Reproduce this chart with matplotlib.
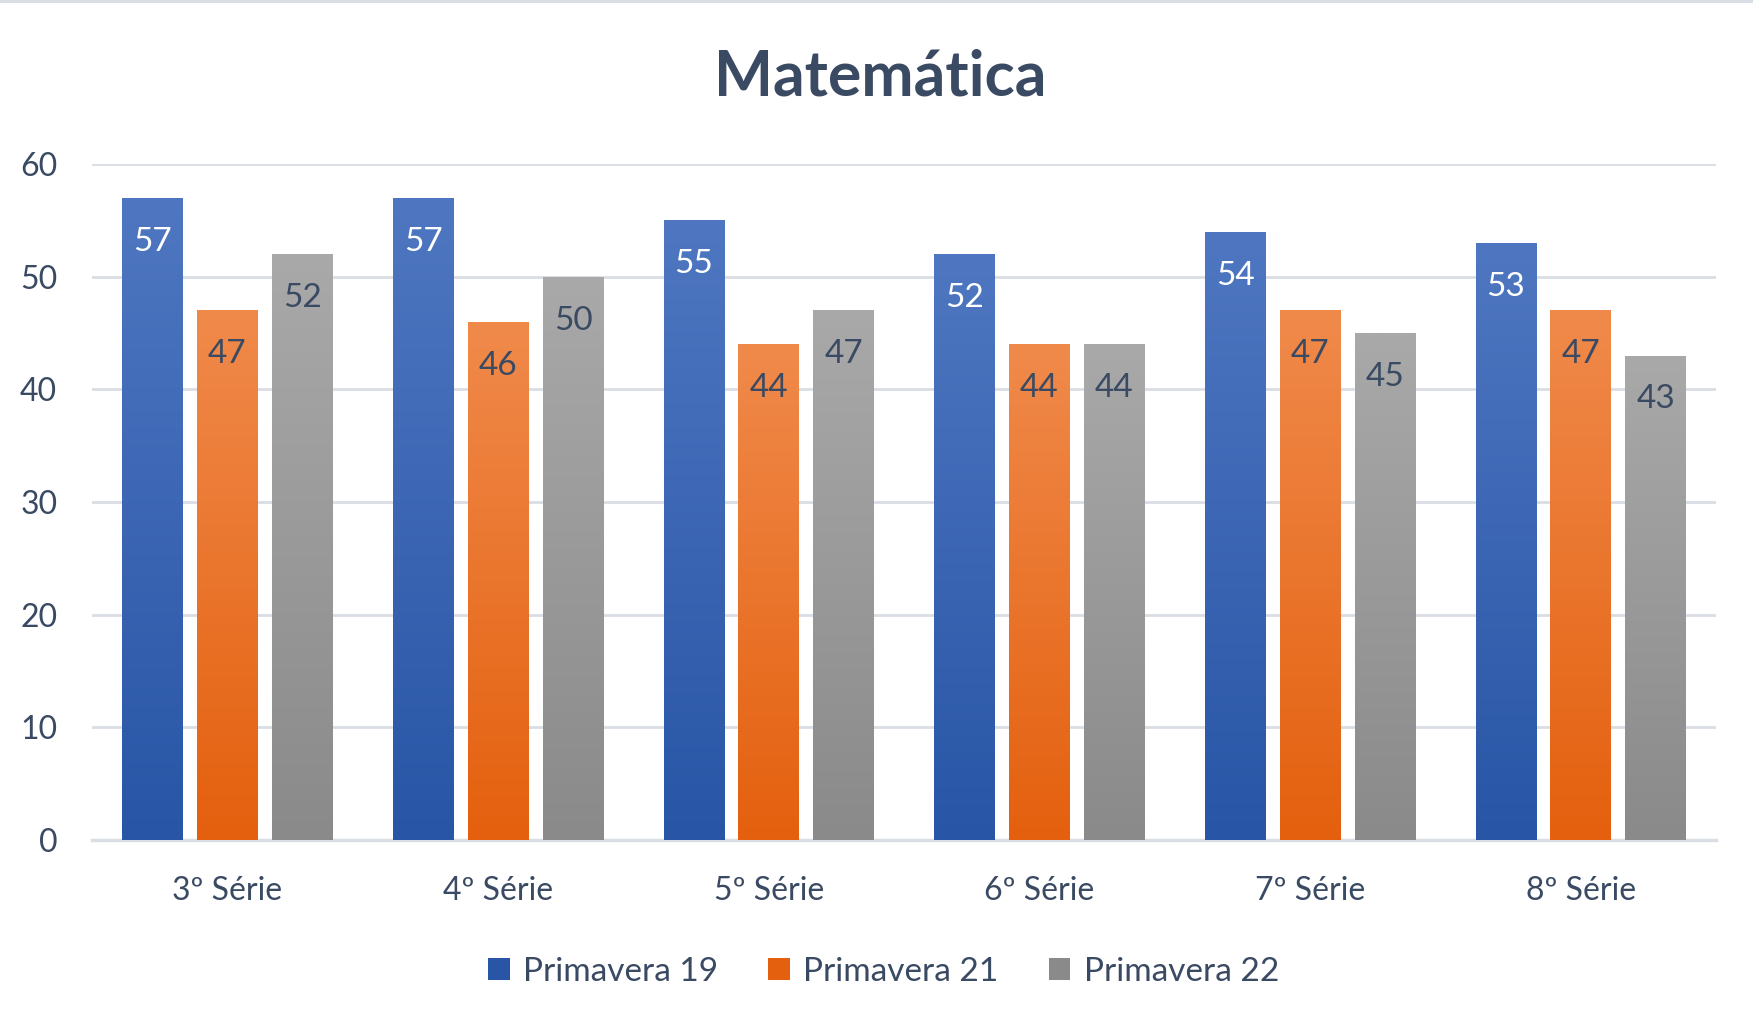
import numpy as np
import matplotlib
matplotlib.use("Agg")
import matplotlib.pyplot as plt
from matplotlib.colors import LinearSegmentedColormap
from matplotlib.patches import Patch
from matplotlib.lines import Line2D

# donnees
series = ["3º Série", "4º Série", "5º Série", "6º Série", "7º Série", "8º Série"]
noms = ["Primavera 19", "Primavera 21", "Primavera 22"]
prim19 = [57, 57, 55, 52, 54, 53]
prim21 = [47, 46, 44, 44, 47, 47]
prim22 = [52, 50, 47, 44, 45, 43]
valeurs = [prim19, prim21, prim22]

# couleurs haut / bas du degrade
degrades = [("#4f77c1", "#2855a6"), ("#f08a4b", "#e4600e"), ("#a9a9a9", "#8a8a8a")]
couleurs_txt = ["white", "#3a4a63", "#3a4a63"]
txt = "#3a4a63"

plt.rcParams['font.family'] = ['Lato', 'DejaVu Sans']

fig = plt.figure(figsize=(17.53, 10.29), dpi=100)
ax = fig.add_axes([92 / 1753, 1 - 840 / 1029, (1716 - 92) / 1753, (840 - 164) / 1029])

x = np.arange(len(series))
largeur = 0.223
pas = 0.277

grad = np.linspace(1, 0, 256).reshape(-1, 1)
for i, vals in enumerate(valeurs):
    cmap = LinearSegmentedColormap.from_list("g%d" % i, [degrades[i][1], degrades[i][0]])
    pos = x + (i - 1) * pas
    barres = ax.bar(pos, vals, width=largeur, color=degrades[i][0], zorder=2,
                    edgecolor="none")
    for b, v in zip(barres, vals):
        x0 = b.get_x()
        im = ax.imshow(grad, cmap=cmap, aspect="auto", zorder=3,
                       extent=[x0, x0 + b.get_width(), 0, v])
        im.set_clip_path(b)
        ax.text(b.get_x() + b.get_width() / 2, v - 3.9, str(v), ha="center", va="center",
                color=couleurs_txt[i], fontsize=24, zorder=4)
ax.set_xlim(-0.5, len(series) - 0.5)
ax.set_ylim(0, 60)

ax.set_yticks(range(0, 61, 10))
ax.yaxis.grid(True, color="#d9dde4", linewidth=2)
ax.set_axisbelow(True)
for s in ["top", "right", "left"]:
    ax.spines[s].set_visible(False)
ax.spines["bottom"].set_color("#d9dde4")
ax.spines["bottom"].set_linewidth(2.5)
ax.set_xticks(x)
ax.set_xticklabels(series)
ax.tick_params(axis="both", length=0, labelsize=23, labelcolor=txt)
ax.tick_params(axis="x", pad=26)
ax.tick_params(axis="y", pad=25)

fig.text(0.502, 1 - 77 / 1029, "Matemática", ha="center", va="center",
         fontsize=45, fontweight="bold", color=txt)

poignees = [Patch(facecolor=d[1], edgecolor="none") for d in degrades]
fig.legend(poignees, noms, loc="center", bbox_to_anchor=(0.504, 1 - 972 / 1029),
           ncol=3, frameon=False, fontsize=24, labelcolor=txt,
           handlelength=0.65, handleheight=0.65, handletextpad=0.4, columnspacing=1.5)

# bordure du graphique en haut
fig.add_artist(Line2D([0, 1], [0.999, 0.999], color="#d9dde4", linewidth=3,
                      transform=fig.transFigure))

fig.savefig("out.png", dpi=100)
